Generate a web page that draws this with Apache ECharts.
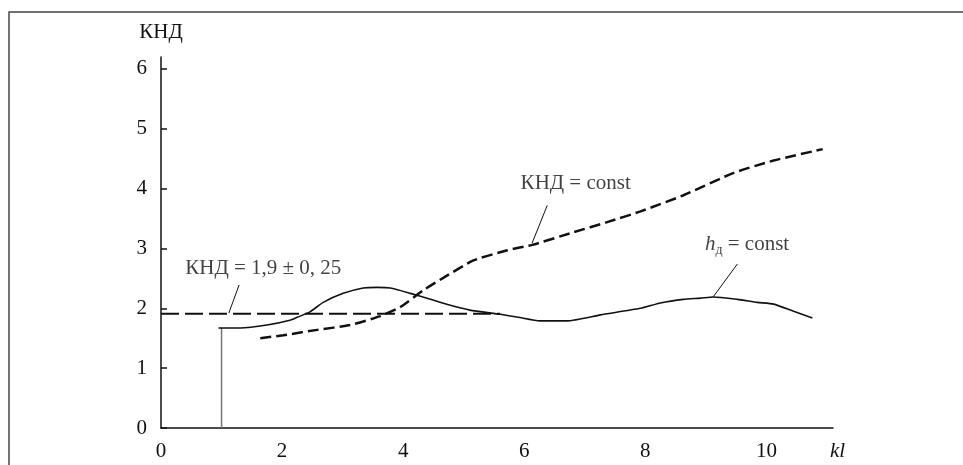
<!DOCTYPE html>
<html><head><meta charset="utf-8">
<script src="https://cdn.jsdelivr.net/npm/echarts@6/dist/echarts.min.js"></script>
<style>html,body{margin:0;padding:0;background:#fff}#c{width:963px;height:465px}</style>
</head><body><div id="c"></div>
<script>
// ---- data ----
const xTicks = [0, 2, 4, 6, 8, 10];
const yTicks = [0, 1, 2, 3, 4, 5, 6];
const xName = 'kl';
const yName = 'КНД';
// h_д = const (solid)
const hConstCurve = [[0.95,1.67],[1.31,1.67],[1.75,1.72],[2.13,1.80],[2.25,1.85],[2.46,1.94],[2.68,2.10],[3.01,2.25],[3.34,2.34],[3.57,2.35],[3.79,2.34],[4.12,2.25],[4.45,2.15],[4.78,2.05],[5.1,1.97],[5.6,1.90],[5.9,1.85],[6.26,1.79],[6.71,1.79],[7.26,1.89],[7.92,2.0],[8.25,2.09],[8.63,2.15],[8.91,2.17],[9.12,2.19],[9.52,2.15],[9.85,2.10],[10.12,2.07],[10.45,1.95],[10.76,1.84]];
// КНД = const (short dashes)
const kndConstCurve = [[1.64,1.50],[2.02,1.55],[2.58,1.64],[3.12,1.72],[3.62,1.87],[3.95,2.02],[4.33,2.30],[4.73,2.55],[5.16,2.80],[5.72,2.97],[6.13,3.06],[6.81,3.27],[7.37,3.44],[7.92,3.62],[8.63,3.89],[9.45,4.26],[10.12,4.47],[10.93,4.66]];
// КНД = 1,9 level (long dashes)
const kndLevel = [[0,1.91],[5.6,1.91]];
// vertical marker at kl = 1
const klMarker = [[1,0],[1,1.67]];
// annotation texts
const labelTexts = ['КНД = 1,9 ± 0, 25', 'КНД = const', '{i|h}{s|д}{n| = const}'];
const labelAnchors = [[1.69,2.67],[6.85,4.09],[9.68,3.07]];
const leaderLines = [[[1.29,2.39],[1.12,1.92]],[[6.38,3.72],[6.13,3.09]],[[9.52,2.74],[9.12,2.19]]];

// ---- chart ----
const FONT = '"Liberation Serif","DejaVu Serif",serif';
const INK = '#111';
const FS = 21;
const chart = echarts.init(document.getElementById('c'), null, {renderer:'canvas'});
const series = [
  {type:'line', data: klMarker, symbol:'none', silent:true, lineStyle:{color:'#777', width:1.5}},
  {type:'line', data: kndLevel, symbol:'none', silent:true, lineStyle:{color:INK, width:2, type:[18,6]}},
  {type:'line', data: hConstCurve, symbol:'none', silent:true, smooth:0.2, lineStyle:{color:INK, width:1.6}},
  {type:'line', data: kndConstCurve, symbol:'none', silent:true, smooth:0.2, lineStyle:{color:INK, width:2.5, type:[11,5]}}
];
leaderLines.forEach(l => series.push({type:'line', data:l, symbol:'none', silent:true, lineStyle:{color:INK, width:1}}));
labelTexts.forEach((t,i) => series.push({
  type:'scatter', data:[labelAnchors[i]], symbolSize:0, silent:true,
  label:{show:true, position:'inside', formatter:t, color:INK, fontFamily:FONT, fontSize:FS,
    rich:{i:{fontStyle:'italic', fontSize:FS, fontFamily:FONT, color:INK},
          s:{fontSize:14, fontFamily:FONT, color:INK, padding:[13,0,0,0]},
          n:{fontSize:FS, fontFamily:FONT, color:INK}}}
}));
chart.setOption({
  animation:false,
  backgroundColor:'#fff',
  textStyle:{fontFamily:FONT},
  grid:{left:161, right:130, top:57, bottom:37, containLabel:false, outerBoundsMode:'none'},
  xAxis:{type:'value', min:0, max:11.1,
    name:xName, nameLocation:'end', nameGap:-3,
    nameTextStyle:{fontStyle:'italic', fontFamily:FONT, fontSize:FS, color:INK, verticalAlign:'top', lineHeight:46},
    axisLine:{lineStyle:{color:INK, width:1.5}},
    axisTick:{show:false},
    splitLine:{show:false},
    axisLabel:{customValues:xTicks, color:INK, fontFamily:FONT, fontSize:FS, margin:13}
  },
  yAxis:{type:'value', min:0, max:6.2,
    name:yName, nameLocation:'end', nameGap:14,
    nameTextStyle:{fontFamily:FONT, fontSize:FS, color:INK, align:'center'},
    axisLine:{show:true, lineStyle:{color:INK, width:1.5}},
    axisTick:{show:true, inside:true, length:6, customValues:yTicks, lineStyle:{color:INK, width:1.5}},
    splitLine:{show:false},
    axisLabel:{customValues:yTicks, color:INK, fontFamily:FONT, fontSize:FS, margin:14}
  },
  graphic:[{type:'rect', shape:{x:9, y:12, width:1000, height:1000}, style:{fill:null, stroke:'#444', lineWidth:1.5}, silent:true}],
  series
});
</script></body></html>
